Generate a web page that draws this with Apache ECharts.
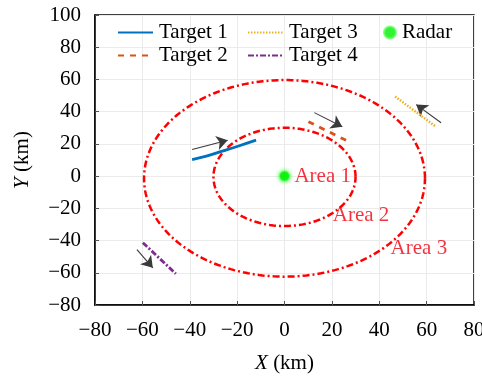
<!DOCTYPE html>
<html>
<head>
<meta charset="utf-8">
<script src="https://cdn.jsdelivr.net/npm/echarts@6/dist/echarts.min.js"></script>
<style>html,body{margin:0;padding:0;background:#fff}#c{width:482px;height:376px}</style>
</head>
<body>
<div id="c"></div>
<script>
// ---- data ----
var xTicks = [-80, 80, 20];
var yTicks = [-80, 100, 20];
var target1 = [[-39, 10.3], [-33, 12.4], [-27, 15.2], [-20, 18.4], [-12, 22.3]];
var target2 = [[10.1, 33.8], [28.2, 20.6]];
var target3 = [[46.7, 49.4], [64.0, 30.6]];
var target4 = [[-59.8, -41.3], [-45.9, -60.6]];
var radar = [[0, 0]];
// arrows: [x1, y1, x2, y2]
var arrows = [
  [-39, 16.5, -24, 22.3],
  [12.6, 39.4, 24.4, 30.6],
  [66.1, 33.1, 55.6, 44.4],
  [-62.3, -45.6, -55.6, -56.9]
];
// areas: [centerX, centerY, radiusX, radiusY]
var areaEllipses = [[0, -0.5, 30, 30.5], [0, -1.4, 59.3, 61]];
var areaLabels = [["Area 1", 4.2, 0], ["Area 2", 20.4, -24.2], ["Area 3", 44.8, -44.7]];

var FONT = '"Liberation Serif", "DejaVu Serif", serif';

function ellipse(e) {
  var pts = [];
  for (var i = 0; i <= 240; i++) {
    var t = i / 240 * Math.PI * 2;
    pts.push([e[0] + e[2] * Math.cos(t), e[1] + e[3] * Math.sin(t)]);
  }
  return pts;
}
function fmt(v) { return String(v).replace('-', '\u2212'); }

var series = [
  { name: 'Target 1', type: 'line', data: target1, showSymbol: false, symbol: 'none', smooth: true,
    lineStyle: { color: '#0072BD', width: 2.8 }, itemStyle: { color: '#0072BD' }, z: 5 },
  { name: 'Target 2', type: 'line', data: target2, showSymbol: false, symbol: 'none',
    lineStyle: { color: '#D95319', width: 2.8, type: [6, 6] }, itemStyle: { color: '#D95319' }, z: 5 },
  { name: 'Target 3', type: 'line', data: target3, showSymbol: false, symbol: 'none',
    lineStyle: { color: '#EDB120', width: 2.5, type: [1.5, 1.5] }, itemStyle: { color: '#EDB120' }, z: 5 },
  { name: 'Target 4', type: 'line', data: target4, showSymbol: false, symbol: 'none',
    lineStyle: { color: '#7E2F8E', width: 2.8, type: [6, 2, 2, 2] }, itemStyle: { color: '#7E2F8E' }, z: 5 },
  { name: 'Radar', type: 'scatter', data: radar, symbolSize: 10,
    itemStyle: { color: '#00ee00', borderColor: '#66ff66', borderWidth: 1, shadowBlur: 4, shadowColor: '#00ff00' }, z: 6 },
  { name: 'arrows', type: 'lines', coordinateSystem: 'cartesian2d',
    data: arrows.map(function (a) { return { coords: [[a[0], a[1]], [a[2], a[3]]] }; }),
    symbol: ['none', 'arrow'], symbolSize: 11,
    lineStyle: { color: '#3a3a3a', width: 1.1, opacity: 1 }, z: 4 },
  { name: 'areaLabels', type: 'scatter', symbolSize: 0,
    data: areaLabels.map(function (a) { return { value: [a[1], a[2]], name: a[0] }; }),
    label: { show: true, position: 'right', distance: 0, formatter: '{b}', color: '#f00010',
      fontFamily: FONT, fontSize: 21 }, z: 7 }
];
areaEllipses.forEach(function (e, i) {
  series.push({ name: 'area' + i, type: 'line', data: ellipse(e), showSymbol: false, symbol: 'none',
    lineStyle: { color: '#ff0000', width: 2.5, type: [7, 3, 2, 3] }, z: 3, silent: true });
});

function leg(name, left, top, w, hideSym) {
  var l = { data: [name], left: left, top: top, padding: 0, itemWidth: w, itemHeight: 14, itemGap: 0,
    textStyle: { fontFamily: FONT, fontSize: 21, color: '#000', padding: [0, 0, 0, 1] }, selectedMode: false };
  if (hideSym) { l.itemStyle = { opacity: 0 }; }
  return l;
}

var chart = echarts.init(document.getElementById('c'), null, { renderer: 'canvas' });
chart.setOption({
  animation: false,
  backgroundColor: '#fff',
  grid: { left: 95, right: 8, top: 15, bottom: 71, show: true, borderColor: '#000', borderWidth: 1.5,
    containLabel: false, outerBoundsMode: 'none' },
  legend: [
    leg('Target 1', 117, 22, 35, true),
    leg('Target 2', 117, 45, 35, true),
    leg('Target 3', 247, 22, 35, true),
    leg('Target 4', 247, 45, 35, true),
    leg('Radar', 383, 22, 12, false)
  ],
  xAxis: {
    type: 'value', min: xTicks[0], max: xTicks[1], interval: xTicks[2],
    name: '{i|X} (km)', nameLocation: 'middle', nameGap: 48,
    nameTextStyle: { fontFamily: FONT, fontSize: 21, color: '#000',
      rich: { i: { fontFamily: FONT, fontSize: 21, fontStyle: 'italic' } } },
    axisLine: { show: true, onZero: false, lineStyle: { color: '#000', width: 1.5 } },
    axisTick: { show: true, inside: true, length: 4, lineStyle: { color: '#555' } },
    axisLabel: { fontFamily: FONT, fontSize: 21, color: '#000', margin: 15, formatter: fmt, showMaxLabel: true },
    splitLine: { show: true, lineStyle: { color: '#ebebeb', width: 1 } }
  },
  yAxis: {
    type: 'value', min: yTicks[0], max: yTicks[1], interval: yTicks[2],
    name: '{i|Y} (km)', nameLocation: 'middle', nameGap: 62,
    nameTextStyle: { fontFamily: FONT, fontSize: 21, color: '#000',
      rich: { i: { fontFamily: FONT, fontSize: 21, fontStyle: 'italic' } } },
    axisLine: { show: true, onZero: false, lineStyle: { color: '#000', width: 1.5 } },
    axisTick: { show: true, inside: true, length: 4, lineStyle: { color: '#555' } },
    axisLabel: { fontFamily: FONT, fontSize: 21, color: '#000', margin: 14, formatter: fmt },
    splitLine: { show: true, lineStyle: { color: '#ebebeb', width: 1 } }
  },
  series: series
});
</script>
</body>
</html>
